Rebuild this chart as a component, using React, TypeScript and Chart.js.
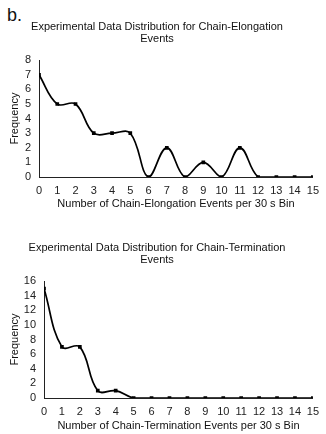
import React, { useEffect, useRef } from "react";
import { Chart, registerables } from "chart.js";

Chart.register(...registerables);

// ---- data ----
const binLabels = [0, 1, 2, 3, 4, 5, 6, 7, 8, 9, 10, 11, 12, 13, 14, 15];
const elongationFreq = [7, 5, 5, 3, 3, 3, 0, 2, 0, 1, 0, 2, 0, 0, 0, 0];
const terminationFreq = [15, 7, 7, 1, 1, 0, 0, 0, 0, 0, 0, 0, 0, 0, 0, 0];
const elongationTitle = ["Experimental Data Distribution for Chain-Elongation", "Events"];
const terminationTitle = ["Experimental Data Distribution for Chain-Termination", "Events"];
const elongationXTitle = "Number of Chain-Elongation Events per 30 s Bin";
const terminationXTitle = "Number of Chain-Termination Events per 30 s Bin";
const yTitle = "Frequency";
const panelLabel = "b.";

const FONT = "'Liberation Sans', Arial, sans-serif";

type PanelProps = {
  titleLines: string[];
  xTitle: string;
  values: number[];
  yMax: number;
  yStep: number;
  yWidth: number;
  xTitlePadBottom: number;
  top: number;
  height: number;
};

function Panel(props: PanelProps) {
  const ref = useRef<HTMLCanvasElement | null>(null);
  useEffect(() => {
    if (!ref.current) return;
    const points = binLabels.map((b, i) => ({ x: b, y: props.values[i] }));
    const chart = new Chart(ref.current, {
      type: "line",
      data: {
        datasets: [
          {
            data: points,
            borderColor: "#000",
            backgroundColor: "#000",
            borderWidth: 1.7,
            tension: 0.4,
            pointStyle: "rect",
            pointRadius: 2.6,
            pointBorderWidth: 0,
            pointBackgroundColor: "#000",
          },
        ],
      },
      options: {
        animation: false,
        responsive: false,
        layout: { padding: { left: 0, right: 12, top: 0, bottom: 0 } },
        plugins: {
          legend: { display: false },
          tooltip: { enabled: false },
          title: {
            display: true,
            text: props.titleLines,
            color: "#111",
            font: { family: FONT, size: 11, weight: "normal", lineHeight: 1.1 },
            padding: { top: 21, bottom: 15 },
          },
        },
        scales: {
          x: {
            type: "linear",
            min: 0,
            max: 15,
            grid: { display: false, drawTicks: false },
            border: { display: true, color: "#222", width: 1 },
            ticks: {
              stepSize: 1,
              padding: 7,
              color: "#222",
              font: { family: FONT, size: 11 },
              maxRotation: 0,
              autoSkip: false,
            },
            title: {
              display: true,
              text: props.xTitle,
              color: "#111",
              font: { family: FONT, size: 11 },
              padding: { top: 2, bottom: props.xTitlePadBottom },
            },
            afterFit: (scale: any) => {
              scale.height = 36;
            },
          },
          y: {
            type: "linear",
            min: 0,
            max: props.yMax,
            grid: { display: false, drawTicks: false },
            border: { display: true, color: "#222", width: 1 },
            ticks: {
              stepSize: props.yStep,
              padding: 8,
              color: "#222",
              autoSkip: false,
              font: { family: FONT, size: 11 },
            },
            title: {
              display: true,
              text: yTitle,
              color: "#111",
              font: { family: FONT, size: 11 },
              padding: { top: 8, bottom: 2 },
            },
            afterFit: (scale: any) => {
              scale.width = props.yWidth;
            },
          },
        },
      },
    });
    return () => chart.destroy();
  }, []);
  return (
    <canvas
      ref={ref}
      width={326}
      height={props.height}
      style={{ position: "absolute", left: 0, top: props.top, width: 326, height: props.height }}
    />
  );
}

export default function App() {
  return (
    <div
      style={{
        position: "fixed",
        left: 0,
        top: 0,
        width: 326,
        height: 434,
        overflow: "hidden",
        background: "#fff",
      }}
    >
      <div
        style={{
          position: "absolute",
          left: 7,
          top: 5,
          fontFamily: FONT,
          fontSize: 18,
          lineHeight: "20px",
          color: "#111",
        }}
      >
        {panelLabel}
      </div>
      <Panel
        titleLines={elongationTitle}
        xTitle={elongationXTitle}
        values={elongationFreq}
        yMax={8}
        yStep={1}
        yWidth={39}
        xTitlePadBottom={2}
        top={0}
        height={213}
      />
      <Panel
        titleLines={terminationTitle}
        xTitle={terminationXTitle}
        values={terminationFreq}
        yMax={16}
        yStep={2}
        yWidth={44}
        xTitlePadBottom={1}
        top={221}
        height={213}
      />
    </div>
  );
}
